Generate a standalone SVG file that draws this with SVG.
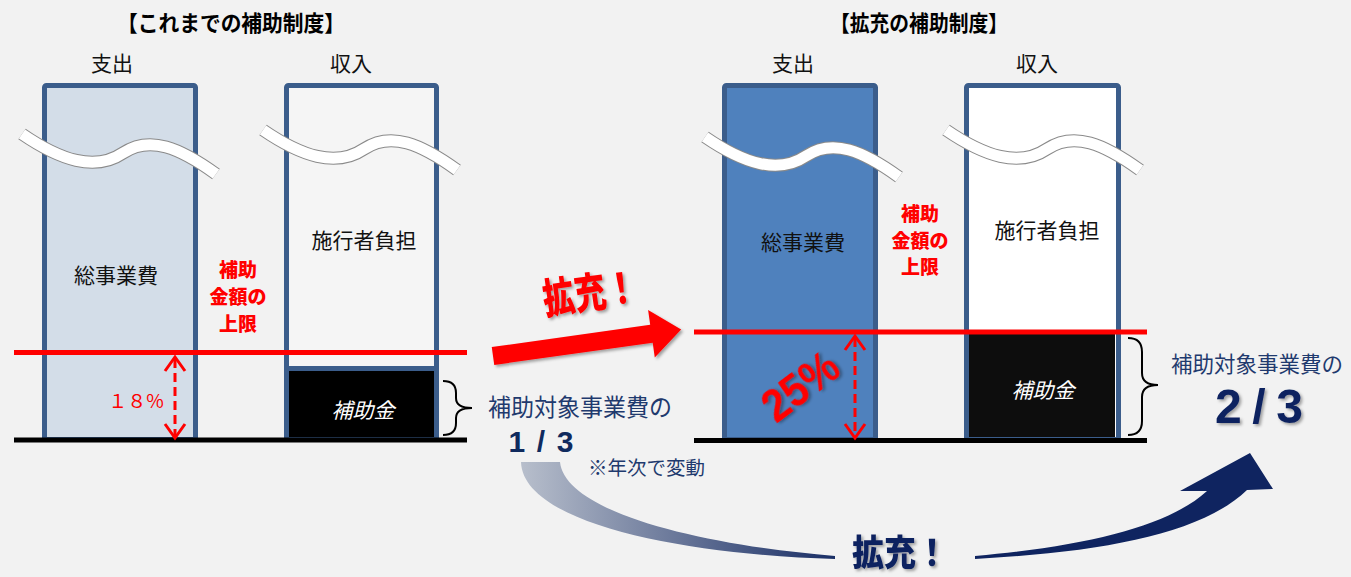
<svg xmlns="http://www.w3.org/2000/svg" width="1351" height="577" viewBox="0 0 1351 577">
<defs>
<style>
.jp{font-family:"Noto Sans CJK JP","Noto Sans",sans-serif;}
.lab{font-size:21px;fill:#111;text-anchor:middle;}
.ttl{font-size:22px;font-weight:bold;fill:#000;}
.cap{font-size:19px;font-weight:900;fill:#ff0000;text-anchor:middle;}
.box{stroke:#3b5d8b;stroke-width:5;}
.base{stroke:#000;stroke-width:5;}
.red{stroke:#ff0000;stroke-width:5;}
.dash{stroke:#ff0000;stroke-width:3;stroke-dasharray:9 5;fill:none;}
.chev{stroke:#ff0000;stroke-width:3;fill:none;}
.brace{stroke:#000;stroke-width:2;fill:none;}
.sub{font-size:24px;fill:#1f3a6e;}
.hojo{font-size:21px;fill:#fff;font-style:italic;text-anchor:middle;}
</style>
<filter id="sh" x="-20%" y="-20%" width="140%" height="140%">
<feDropShadow dx="2" dy="2" stdDeviation="1.5" flood-color="#000" flood-opacity="0.35"/>
</filter>
<linearGradient id="gl" x1="520" y1="0" x2="835" y2="0" gradientUnits="userSpaceOnUse">
<stop offset="0" stop-color="#b8bfcc"/>
<stop offset="1" stop-color="#1a2f66"/>
</linearGradient>
<g id="wave">
<path d="M22,134 C60,160 95,172 123,153 C150,135 180,148 216,174" fill="none" stroke="#8a8a8a" stroke-width="13"/>
<path d="M22,134 C60,160 95,172 123,153 C150,135 180,148 216,174" fill="none" stroke="#ffffff" stroke-width="11"/>
</g>
</defs>
<rect x="0" y="0" width="1351" height="577" fill="#f2f2f2"/>

<g id="left-title">
<text class="jp ttl" x="117" y="31" textLength="228" lengthAdjust="spacingAndGlyphs">【これまでの補助制度】</text>
<text class="jp lab" x="112" y="71" font-size="22">支出</text>
<text class="jp lab" x="351" y="71" font-size="22">収入</text>
</g>

<g id="left-expense">
<rect class="box" x="44.5" y="85.5" width="151" height="354" rx="2" fill="#d3dde8"/>
<use href="#wave"/>
<text class="jp lab" x="116" y="283">総事業費</text>
</g>

<g id="left-income">
<rect class="box" x="286.5" y="85.5" width="150" height="354" rx="2" fill="#f5f5f5"/>
<use href="#wave" transform="translate(241,-4)"/>
<text class="jp lab" x="364" y="248">施行者負担</text>
<rect class="box" x="286.5" y="368.5" width="150" height="71" fill="#000"/>
<text class="jp hojo" x="363" y="418">補助金</text>
</g>

<g id="left-cap">
<text class="jp cap" x="238" y="277">補助</text>
<text class="jp cap" x="238" y="304">金額の</text>
<text class="jp cap" x="238" y="331">上限</text>
</g>

<g id="left-lines">
<line class="base" x1="14" y1="440" x2="467" y2="440"/>
<line class="red" x1="14" y1="352.5" x2="467" y2="352.5"/>
<line class="dash" x1="175" y1="359" x2="175" y2="436"/>
<polyline class="chev" points="165,371 175,357 185,371"/>
<polyline class="chev" points="165,424 175,438 185,424"/>
<text class="jp" x="136" y="408" font-size="19" fill="#ff0000" text-anchor="middle">１８%</text>
<path class="brace" d="M443,381 Q456,381 456,393 L456,398 Q456,408 472,408 Q456,408 456,418 L456,423 Q456,435 443,435"/>
</g>

<g id="left-ratio">
<text class="jp sub" x="488" y="416" textLength="184" lengthAdjust="spacingAndGlyphs">補助対象事業費の</text>
<text x="541" y="452" font-family="Liberation Sans, Arial, sans-serif" font-weight="bold" font-size="30" fill="#0f2a5e" text-anchor="middle" textLength="65">1 / 3</text>
<text class="jp" x="588" y="475" font-size="19.5" fill="#1f3a6e">※年次で変動</text>
</g>

<g id="red-arrow" filter="url(#sh)">
<polygon points="0,-9 160,-9 160,-24 190,0 160,24 160,9 0,9" fill="#ff0000" transform="translate(493,356) rotate(-8)"/>
<text class="jp" x="0" y="15" font-size="42" font-weight="900" fill="#ff0000" text-anchor="middle" textLength="95" lengthAdjust="spacingAndGlyphs" transform="translate(590,293) rotate(-8)">拡充！</text>
</g>

<g id="right-title">
<text class="jp ttl" x="830" y="31" textLength="178" lengthAdjust="spacingAndGlyphs">【拡充の補助制度】</text>
<text class="jp lab" x="793" y="71" font-size="22">支出</text>
<text class="jp lab" x="1037" y="71" font-size="22">収入</text>
</g>

<g id="right-expense">
<rect class="box" x="724.5" y="85.5" width="151" height="354" rx="2" fill="#4f81bd"/>
<use href="#wave" transform="translate(683,3)"/>
<text class="jp lab" x="803" y="250">総事業費</text>
</g>

<g id="right-income">
<rect class="box" x="966.5" y="85.5" width="152" height="354" rx="2" fill="#ffffff"/>
<use href="#wave" transform="translate(924,-4)"/>
<text class="jp lab" x="1047" y="238">施行者負担</text>
<rect x="969" y="332" width="146" height="105" fill="#0d0d0d"/>
<text class="jp hojo" x="1043" y="398">補助金</text>
</g>

<g id="right-cap">
<text class="jp cap" x="920" y="221">補助</text>
<text class="jp cap" x="920" y="248">金額の</text>
<text class="jp cap" x="920" y="274">上限</text>
</g>

<g id="right-lines">
<line class="base" x1="694" y1="440.5" x2="1147" y2="440.5"/>
<line class="red" x1="694" y1="332" x2="1147" y2="332"/>
<line class="dash" x1="855" y1="338" x2="855" y2="436"/>
<polyline class="chev" points="845,350 855,336 865,350"/>
<polyline class="chev" points="845,424 855,438 865,424"/>
<text x="0" y="16" font-family="Liberation Sans, Arial, sans-serif" font-size="46" font-weight="bold" fill="#ff0000" text-anchor="middle" transform="translate(800,386) rotate(-37)" textLength="84" lengthAdjust="spacingAndGlyphs" filter="url(#sh)">25%</text>
<path class="brace" d="M1128,338 Q1142,338 1142,352 L1142,373 Q1142,385 1158,385 Q1142,385 1142,397 L1142,421 Q1142,435 1128,435"/>
</g>

<g id="right-ratio">
<text class="jp" x="1171" y="372" font-size="21.5" fill="#1f3a6e">補助対象事業費の</text>
<text x="1259" y="423" font-family="Liberation Sans, Arial, sans-serif" font-weight="bold" font-size="48" fill="#0f2460" text-anchor="middle" textLength="88" filter="url(#sh)">2/3</text>
</g>

<g id="connectors">
<path d="M521,462 C523,525 690,555 835,559 L835,556 C700,545 565,512 560,462 Z" fill="url(#gl)"/>
<path d="M975,556 C1090,546 1170,525 1207,491 L1180,491 L1250,453 L1273,489 L1247,490 C1200,535 1100,552 975,559 Z" fill="#0f2460"/>
<text class="jp" x="900" y="566" font-size="36" font-weight="900" fill="#0f2460" text-anchor="middle" textLength="96" lengthAdjust="spacingAndGlyphs" filter="url(#sh)">拡充！</text>
</g>
</svg>
